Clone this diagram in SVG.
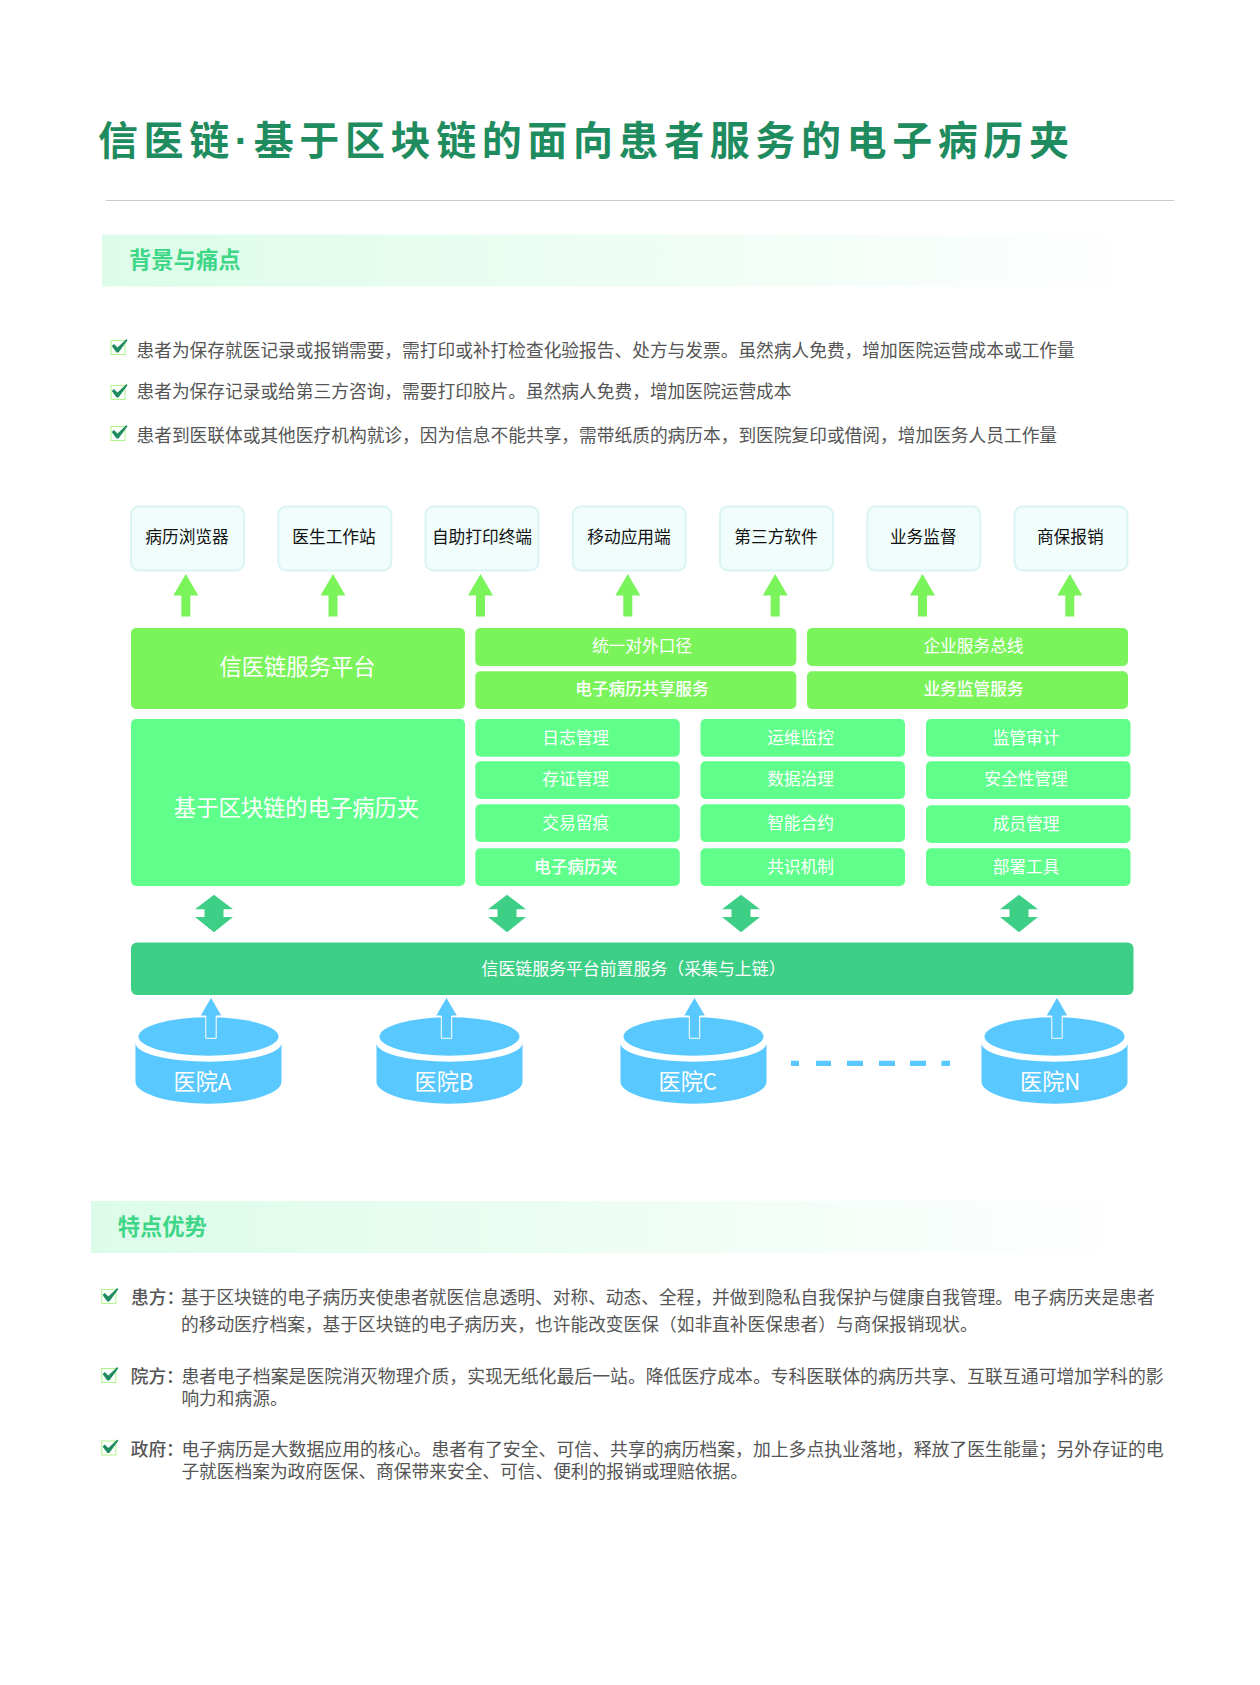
<svg xmlns="http://www.w3.org/2000/svg" xmlns:xlink="http://www.w3.org/1999/xlink" width="1260" height="1685" viewBox="0 0 1260 1685">
<style>
text{font-family:"Noto Sans CJK SC","Noto Sans",sans-serif}
.title{font-size:40px;font-weight:700;fill:#1f8c60;letter-spacing:5.6px}
.dot{font-family:"Liberation Sans",sans-serif}
.head{font-size:22.3px;font-weight:700;fill:#3ed687}
.body{font-size:17.72px;fill:#555}
.wide{font-size:17.87px}
.lab{font-weight:500}
.top{fill:#f0fdfb;stroke:#d9f4f2;stroke-width:2}
.tt{font-size:16.7px;fill:#111;text-anchor:middle}
.g1{fill:#7bf45c}.g2{fill:#60ff8c}.g3{fill:#3ecf87}.blue{fill:#58c8ff}
.w{fill:#fff;text-anchor:middle}
.s{font-size:16.7px}.m{font-weight:500}.l{font-size:22.3px}
.ha{fill:#fff;font-size:22.2px}
.up{fill:#7bf45c}.both{fill:#3ecf87}
.bl{fill:#58c8ff;stroke:#fff;stroke-width:1}
.dash{fill:none;stroke:#58c8ff;stroke-width:5.3}
</style>
<defs>
<linearGradient id="band"><stop offset="0" stop-color="#dcfce9"/><stop offset="1" stop-color="#fff"/></linearGradient>
<g id="chk"><rect x="0.5" y="0.5" width="14" height="14" fill="#fff" stroke="#b0f58c" stroke-width="1"/><path d="M1.3 6L3.500 4L7 7.500L16 -1L17 0.200L8 12.500L6 12.500Z" fill="#1f8c60"/></g>
<path id="ua" d="M0 0L12.500 21.500H4.500V42.500H-4.500V21.500H-12.500Z"/>
<path id="da" d="M0 0L19 14.600H9.500V22.300H19L0 37.600L-19 22.300H-9.500V14.600H-19Z"/>
<path id="ba" d="M0 0L11 19H5.200V41.300H-5.200V19H-11Z"/>
<g id="cyl"><path d="M-73 6.800A73 18.400 0 0 0 73 6.800V45.200A73 22 0 0 1 -73 45.200Z" class="blue"/><ellipse cx="0" cy="0" rx="70" ry="19.200" class="blue"/></g>
</defs>
<rect width="1260" height="1685" fill="#fff"/>
<text class="title" x="98" y="155">信医链<tspan class="dot">·</tspan>基于区块链的面向患者服务的电子病历夹</text>
<path d="M106 200.500H1174" stroke="#c8c8c8" stroke-width="1"/>
<rect x="102" y="234.500" width="1050" height="52" fill="url(#band)"/>
<text class="head" x="129" y="268">背景与痛点</text>
<use xlink:href="#chk" href="#chk" x="110.500" y="340"/>
<text class="body" x="136.500" y="356.500">患者为保存就医记录或报销需要，需打印或补打检查化验报告、处方与发票。虽然病人免费，增加医院运营成本或工作量</text>
<use xlink:href="#chk" href="#chk" x="110.500" y="385"/>
<text class="body" x="136.500" y="398">患者为保存记录或给第三方咨询，需要打印胶片。虽然病人免费，增加医院运营成本</text>
<use xlink:href="#chk" href="#chk" x="110.500" y="426"/>
<text class="body" x="136.500" y="442">患者到医联体或其他医疗机构就诊，因为信息不能共享，需带纸质的病历本，到医院复印或借阅，增加医务人员工作量</text>
<g id="top-row">
<g id="n-browser"><rect class="top" x="131" y="506.500" width="113" height="64" rx="8"/><text class="tt" x="187" y="543">病历浏览器</text></g>
<g id="n-workstation"><rect class="top" x="278.300" y="506.500" width="113" height="64" rx="8"/><text class="tt" x="334" y="543">医生工作站</text></g>
<g id="n-print"><rect class="top" x="425.500" y="506.500" width="113" height="64" rx="8"/><text class="tt" x="482" y="543">自助打印终端</text></g>
<g id="n-mobile"><rect class="top" x="572.800" y="506.500" width="113" height="64" rx="8"/><text class="tt" x="629" y="543">移动应用端</text></g>
<g id="n-third"><rect class="top" x="720" y="506.500" width="113" height="64" rx="8"/><text class="tt" x="776" y="543">第三方软件</text></g>
<g id="n-super"><rect class="top" x="867.300" y="506.500" width="113" height="64" rx="8"/><text class="tt" x="923.300" y="543">业务监督</text></g>
<g id="n-ins"><rect class="top" x="1014.500" y="506.500" width="113" height="64" rx="8"/><text class="tt" x="1070.300" y="543">商保报销</text></g>
</g>
<g id="platform">
<g id="n-platform"><rect class="g1" x="131" y="628" width="334" height="81" rx="5"/><text class="w l" x="297.500" y="674.500">信医链服务平台</text></g>
<g id="n-unified"><rect class="g1" x="475.300" y="628" width="321" height="38" rx="5"/><text class="w s" x="642" y="652">统一对外口径</text></g>
<g id="n-share"><rect class="g1" x="475.300" y="671.300" width="321" height="37.700" rx="5"/><text class="w s m" x="642" y="695">电子病历共享服务</text></g>
<g id="n-esb"><rect class="g1" x="807" y="628" width="321" height="38" rx="5"/><text class="w s" x="973.500" y="652">企业服务总线</text></g>
<g id="n-reg"><rect class="g1" x="807" y="671.300" width="321" height="37.700" rx="5"/><text class="w s m" x="973.500" y="695">业务监管服务</text></g>
</g>
<g id="chain">
<g id="n-chain"><rect class="g2" x="131" y="719" width="334" height="167" rx="5"/><text class="w l" x="296.500" y="816">基于区块链的电子病历夹</text></g>
<g id="n-c11"><rect class="g2" x="475.300" y="719" width="204.500" height="37.700" rx="5"/><text class="w s" x="575.700" y="743.500">日志管理</text></g>
<g id="n-c12"><rect class="g2" x="475.300" y="761.300" width="204.500" height="37.700" rx="5"/><text class="w s" x="575.700" y="785">存证管理</text></g>
<g id="n-c13"><rect class="g2" x="475.300" y="804.300" width="204.500" height="37.700" rx="5"/><text class="w s" x="575.700" y="828.500">交易留痕</text></g>
<g id="n-c14"><rect class="g2" x="475.300" y="848.300" width="204.500" height="37.700" rx="5"/><text class="w s m" x="575.700" y="872.500">电子病历夹</text></g>
<g id="n-c21"><rect class="g2" x="700.500" y="719" width="204.500" height="37.700" rx="5"/><text class="w s" x="800.500" y="743.500">运维监控</text></g>
<g id="n-c22"><rect class="g2" x="700.500" y="761.300" width="204.500" height="37.700" rx="5"/><text class="w s" x="800.500" y="785">数据治理</text></g>
<g id="n-c23"><rect class="g2" x="700.500" y="804.300" width="204.500" height="37.700" rx="5"/><text class="w s" x="800.500" y="828.500">智能合约</text></g>
<g id="n-c24"><rect class="g2" x="700.500" y="848.300" width="204.500" height="37.700" rx="5"/><text class="w s" x="800.500" y="872.500">共识机制</text></g>
<g id="n-c31"><rect class="g2" x="926" y="719" width="204.500" height="37.700" rx="5"/><text class="w s" x="1026" y="743.500">监管审计</text></g>
<g id="n-c32"><rect class="g2" x="926" y="761.300" width="204.500" height="37.700" rx="5"/><text class="w s" x="1026" y="785">安全性管理</text></g>
<g id="n-c33"><rect class="g2" x="926" y="805.300" width="204.500" height="37.700" rx="5"/><text class="w s" x="1026" y="829.500">成员管理</text></g>
<g id="n-c34"><rect class="g2" x="926" y="848.300" width="204.500" height="37.700" rx="5"/><text class="w s" x="1026" y="872.500">部署工具</text></g>
</g>
<g id="n-front"><rect class="g3" x="131" y="942.500" width="1002.500" height="52.500" rx="6"/><text x="481.500" y="975" font-size="16.900" fill="#fff">信医链服务平台前置服务（采集与上链）</text></g>
<g id="hospitals">
<g id="n-a"><use xlink:href="#cyl" href="#cyl" x="208.500" y="1036.500"/></g>
<g id="n-b"><use xlink:href="#cyl" href="#cyl" x="449.500" y="1036.500"/></g>
<g id="n-c"><use xlink:href="#cyl" href="#cyl" x="693.500" y="1036.500"/></g>
<g id="n-n"><use xlink:href="#cyl" href="#cyl" x="1054.500" y="1036.500"/></g>
</g>
<g id="connectors">
<use xlink:href="#ua" href="#ua" class="up" x="185.800" y="574"/>
<use xlink:href="#ua" href="#ua" class="up" x="333" y="574"/>
<use xlink:href="#ua" href="#ua" class="up" x="480.500" y="574"/>
<use xlink:href="#ua" href="#ua" class="up" x="627.800" y="574"/>
<use xlink:href="#ua" href="#ua" class="up" x="775.200" y="574"/>
<use xlink:href="#ua" href="#ua" class="up" x="922.500" y="574"/>
<use xlink:href="#ua" href="#ua" class="up" x="1069.800" y="574"/>
<use xlink:href="#da" href="#da" class="both" x="214" y="894.700"/>
<use xlink:href="#da" href="#da" class="both" x="507" y="894.700"/>
<use xlink:href="#da" href="#da" class="both" x="741" y="894.700"/>
<use xlink:href="#da" href="#da" class="both" x="1019" y="894.700"/>
<use xlink:href="#ba" href="#ba" class="bl" x="211" y="997"/>
<use xlink:href="#ba" href="#ba" class="bl" x="446.500" y="997"/>
<use xlink:href="#ba" href="#ba" class="bl" x="694.500" y="997"/>
<use xlink:href="#ba" href="#ba" class="bl" x="1057" y="997"/>
<path class="dash" d="M791 1063.300H799M816 1063.300H831M847 1063.300H863M879 1063.300H895M910 1063.300H926M941.500 1063.300H950"/>
</g>
<g id="hospital-labels">
<text class="ha" x="173.500" y="1090">医院A</text>
<text class="ha" x="414.500" y="1090">医院B</text>
<text class="ha" x="658.500" y="1090">医院C</text>
<text class="ha" x="1020" y="1090">医院N</text>
</g>
<rect x="91" y="1201" width="1050" height="52" fill="url(#band)"/>
<text class="head" x="117.700" y="1235">特点优势</text>
<use xlink:href="#chk" href="#chk" x="101.300" y="1289"/>
<text class="body lab" x="131" y="1304">患方：</text>
<text class="body" x="181" y="1304">基于区块链的电子病历夹使患者就医信息透明、对称、动态、全程，并做到隐私自我保护与健康自我管理。电子病历夹是患者</text>
<text class="body" x="181" y="1330.500">的移动医疗档案，基于区块链的电子病历夹，也许能改变医保（如非直补医保患者）与商保报销现状。</text>
<use xlink:href="#chk" href="#chk" x="101.300" y="1368"/>
<text class="body lab" x="130.700" y="1382.500">院方：</text>
<text class="body wide" x="181.400" y="1382.500">患者电子档案是医院消灭物理介质，实现无纸化最后一站。降低医疗成本。专科医联体的病历共享、互联互通可增加学科的影</text>
<text class="body" x="181.400" y="1404.500">响力和病源。</text>
<use xlink:href="#chk" href="#chk" x="101.300" y="1440.500"/>
<text class="body lab" x="130.700" y="1455.500">政府：</text>
<text class="body wide" x="181.400" y="1455.500">电子病历是大数据应用的核心。患者有了安全、可信、共享的病历档案，加上多点执业落地，释放了医生能量；另外存证的电</text>
<text class="body" x="181.400" y="1478">子就医档案为政府医保、商保带来安全、可信、便利的报销或理赔依据。</text>
</svg>
